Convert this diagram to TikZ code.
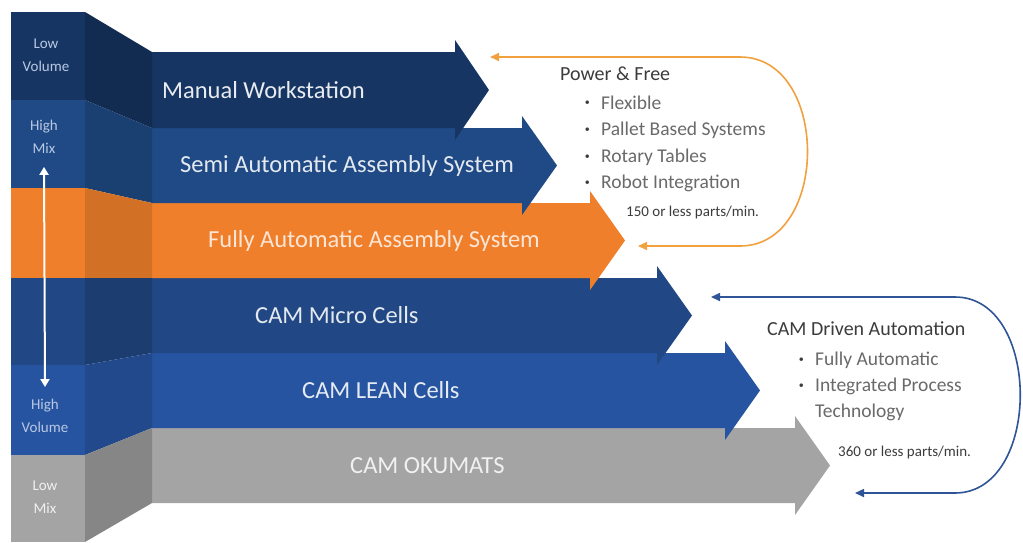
\documentclass[tikz,border=0pt]{standalone}
\usepackage{fontspec}
\setmainfont{Carlito}
\usetikzlibrary{arrows.meta}

\definecolor{navy}{HTML}{163563}
\definecolor{midblue}{HTML}{1F4A85}
\definecolor{camblue}{HTML}{214884}
\definecolor{leanblue}{HTML}{2754A0}
\definecolor{fullorange}{HTML}{EF7F2B}
\definecolor{okugray}{HTML}{A4A4A4}
\definecolor{loopor}{HTML}{F2A13F}
\definecolor{loopbl}{HTML}{2F5597}
\definecolor{txtdark}{HTML}{3C3C3C}
\definecolor{txtgray}{HTML}{6A6A6A}
\definecolor{sidetxt}{HTML}{B9C9E3}

\begin{document}
\begin{tikzpicture}[x=1pt,y=-1pt,
    lbl/.style={anchor=west,inner sep=0pt,font=\fontsize{24.5}{28}\selectfont},
    side/.style={align=center,inner sep=0pt,text=sidetxt,font=\fontsize{15}{23}\selectfont},
    heading/.style={anchor=west,inner sep=0pt,text=txtdark,font=\fontsize{20}{24}\selectfont},
    item/.style={anchor=west,inner sep=0pt,text=txtgray,font=\fontsize{19.5}{24}\selectfont},
    bitem/.style={item,label={[inner sep=0pt,label distance=11pt,text=txtdark]left:\textbullet}},
    rate/.style={anchor=west,inner sep=0pt,text=txtdark,font=\fontsize{15}{18}\selectfont},
    loop/.style={line width=1.6pt,{Triangle[length=9pt,width=8pt]}-{Triangle[length=9pt,width=8pt]}}]

    \useasboundingbox (0,0) rectangle (1023,542);
    \fill[white] (0,0) rectangle (1023,542);

    %frecce, dal basso
    \fill[okugray] (152,428) -- (795,428) -- (795,416) -- (830,465.5) -- (795,515) -- (795,503) -- (152,503) -- cycle;
    \fill[leanblue] (152,353) -- (725,353) -- (725,341) -- (760,390.5) -- (725,440) -- (725,428) -- (152,428) -- cycle;
    \fill[camblue] (152,278) -- (657,278) -- (657,266) -- (692,315.5) -- (657,365) -- (657,353) -- (152,353) -- cycle;
    \fill[fullorange] (152,203) -- (590,203) -- (590,191) -- (625,240.5) -- (590,290) -- (590,278) -- (152,278) -- cycle;
    \fill[midblue] (152,128) -- (522,128) -- (522,116) -- (557,165.5) -- (522,215) -- (522,203) -- (152,203) -- cycle;
    \fill[navy] (152,52) -- (455,52) -- (455,40) -- (489,90) -- (455,140) -- (455,128) -- (152,128) -- cycle;

    %colonna a sinistra
    \fill[navy] (11,12) rectangle (85,100);
    \fill[midblue] (11,100) rectangle (85,188);
    \fill[fullorange] (11,188) rectangle (85,278);
    \fill[camblue] (11,278) rectangle (85,365);
    \fill[leanblue] (11,365) rectangle (85,455);
    \fill[okugray] (11,455) rectangle (85,542);

    %raccordo
    \fill[navy!82!black] (85,12) -- (152,52) -- (152,128) -- (85,100) -- cycle;
    \fill[midblue!85!black] (85,100) -- (152,128) -- (152,203) -- (85,188) -- cycle;
    \fill[fullorange!88!black] (85,188) -- (152,203) -- (152,278) -- (85,278) -- cycle;
    \fill[camblue!85!black] (85,278) -- (152,278) -- (152,353) -- (85,365) -- cycle;
    \fill[leanblue!87!black] (85,365) -- (152,353) -- (152,428) -- (85,455) -- cycle;
    \fill[okugray!82!black] (85,455) -- (152,428) -- (152,503) -- (85,542) -- cycle;

    %scritte colonna
    \node[side] (lowvol) at (46,55) {Low\\Volume};
    \node[side] (highmix) at (44,137) {High\\Mix};
    \node[side] (highvol) at (45,416) {High\\Volume};
    \node[side,text=white!88!gray] (lowmix) at (45,497) {Low\\Mix};
    \draw[white,line width=2pt,{Triangle[length=8pt,width=9pt]}-{Triangle[length=8pt,width=9pt]}]
        ([yshift=-13pt]highmix.south) -- ([yshift=12pt]highvol.north);

    %etichette frecce
    \node[lbl,text=white!90!navy] (manual) at (162,90) {Manual Workstation};
    \node[lbl,text=white!88!midblue] (semi) at (180,165.5) {Semi Automatic Assembly System};
    \node[lbl,text=white!80!fullorange] (fully) at (208,240.5) {Fully Automatic Assembly System};
    \node[lbl,text=white!88!camblue] (micro) at (255,315.5) {CAM Micro Cells};
    \node[lbl,text=white!88!leanblue] (lean) at (302,390.5) {CAM LEAN Cells};
    \node[lbl,text=white!85!okugray] (okumats) at (350,465.5) {CAM OKUMATS};

    %Power & Free
    \node[heading] (pf) at (560,74) {Power \& Free};
    \node[bitem] (flex) at (601,103) {Flexible};
    \node[bitem] (pallet) at (601,130) {Pallet Based Systems};
    \node[bitem] (rotary) at (601,157) {Rotary Tables};
    \node[bitem] (robot) at (601,183) {Robot Integration};
    \node[rate] (pfrate) at (626,212) {150 or less parts/min.};

    %CAM Driven Automation
    \node[heading] (cda) at (767,329) {CAM Driven Automation};
    \node[bitem] (fullauto) at (815,360) {Fully Automatic};
    \node[bitem] (integr) at (815,386) {Integrated Process};
    \node[item] (techn) at (815,412) {Technology};
    \node[rate] (cdarate) at (838,452) {360 or less parts/min.};

    %anelli
    \coordinate (pftop) at (490,57);
    \coordinate (pfbot) at (638,246);
    \draw[loop,loopor] (pftop) -- (740,57) .. controls (830,57) and (830,246) .. (740,246) -- (pfbot);

    \coordinate (cdatop) at (711,297);
    \coordinate (cdabot) at (855,493);
    \draw[loop,loopbl] (cdatop) -- (955,297) .. controls (1042,297) and (1042,493) .. (955,493) -- (cdabot);
\end{tikzpicture}
\end{document}
